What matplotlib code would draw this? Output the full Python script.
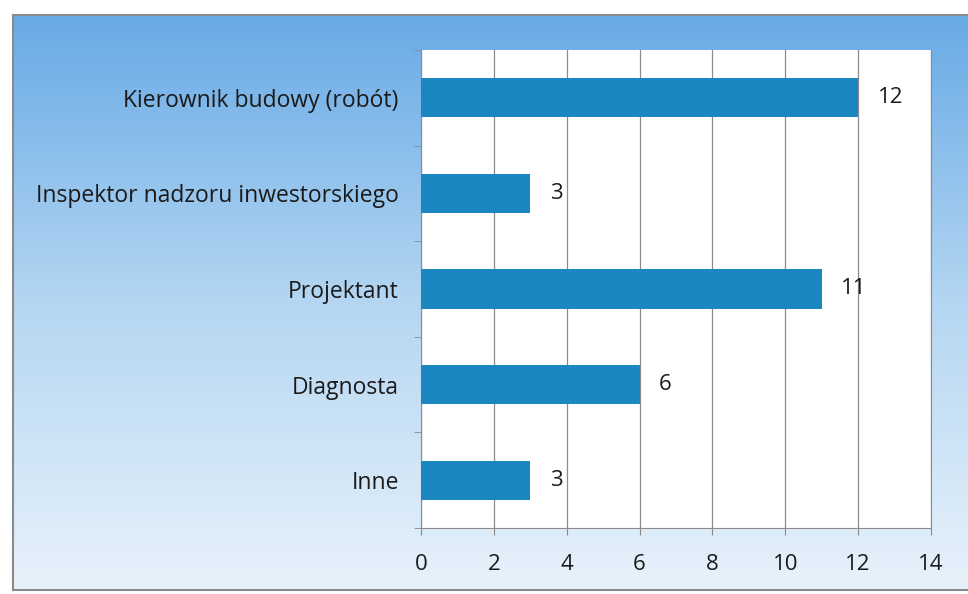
import numpy as np
import matplotlib.pyplot as plt
from matplotlib.colors import LinearSegmentedColormap

categories = ['Kierownik budowy (robót)', 'Inspektor nadzoru inwestorskiego',
              'Projektant', 'Diagnosta', 'Inne']
values = [12, 3, 11, 6, 3]
xticks = [0, 2, 4, 6, 8, 10, 12, 14]

plt.rcParams['font.family'] = ['Open Sans', 'DejaVu Sans']

fig = plt.figure(figsize=(9.68, 5.94), dpi=100)

# gradient background inside the grey frame
bg = fig.add_axes([13 / 968, 4 / 594, 1 - 13 / 968, 1 - 19 / 594], zorder=0)
cmap = LinearSegmentedColormap.from_list('bg', ['#e8f2fb', '#b4d6f2', '#68aae6'])
grad = np.linspace(0, 1, 256).reshape(-1, 1)
bg.imshow(grad, aspect='auto', cmap=cmap, origin='lower', extent=[0, 1, 0, 1])
bg.set_xticks([])
bg.set_yticks([])
for s in bg.spines.values():
    s.set_color('#8a8a8a')
    s.set_linewidth(1.5)
bg.spines['right'].set_visible(False)

ax = fig.add_axes([421 / 968, 66 / 594, 510 / 968, 478 / 594], zorder=1)
ax.set_facecolor('white')
y = np.arange(len(categories))
ax.barh(y, values, height=0.41, color='#1b87c1', zorder=3)
for yi, v in zip(y, values):
    ax.annotate(str(v), (v, yi), xytext=(14, 0), textcoords='offset points',
                va='center', ha='left', fontsize=16, color='#1a1a1a')

ax.set_ylim(len(categories) - 0.5, -0.5)
ax.set_yticks(y)
ax.set_yticklabels(categories, fontsize=16.5, color='#1a1a1a')
ax.set_yticks(np.arange(len(categories) + 1) - 0.5, minor=True)
ax.tick_params(axis='y', which='major', length=0, pad=16)
ax.tick_params(axis='y', which='minor', length=5, color='#888888')

ax.set_xlim(0, 14)
ax.set_xticks(xticks)
ax.set_xticklabels([str(t) for t in xticks], fontsize=16, color='#1a1a1a')
ax.tick_params(axis='x', length=5, color='#888888', pad=14)
ax.grid(axis='x', color='#8c8c8c', linewidth=0.9, zorder=0)
for s in ax.spines.values():
    s.set_color('#8c8c8c')
ax.spines['top'].set_visible(False)

fig.savefig('out.png', dpi=100)
